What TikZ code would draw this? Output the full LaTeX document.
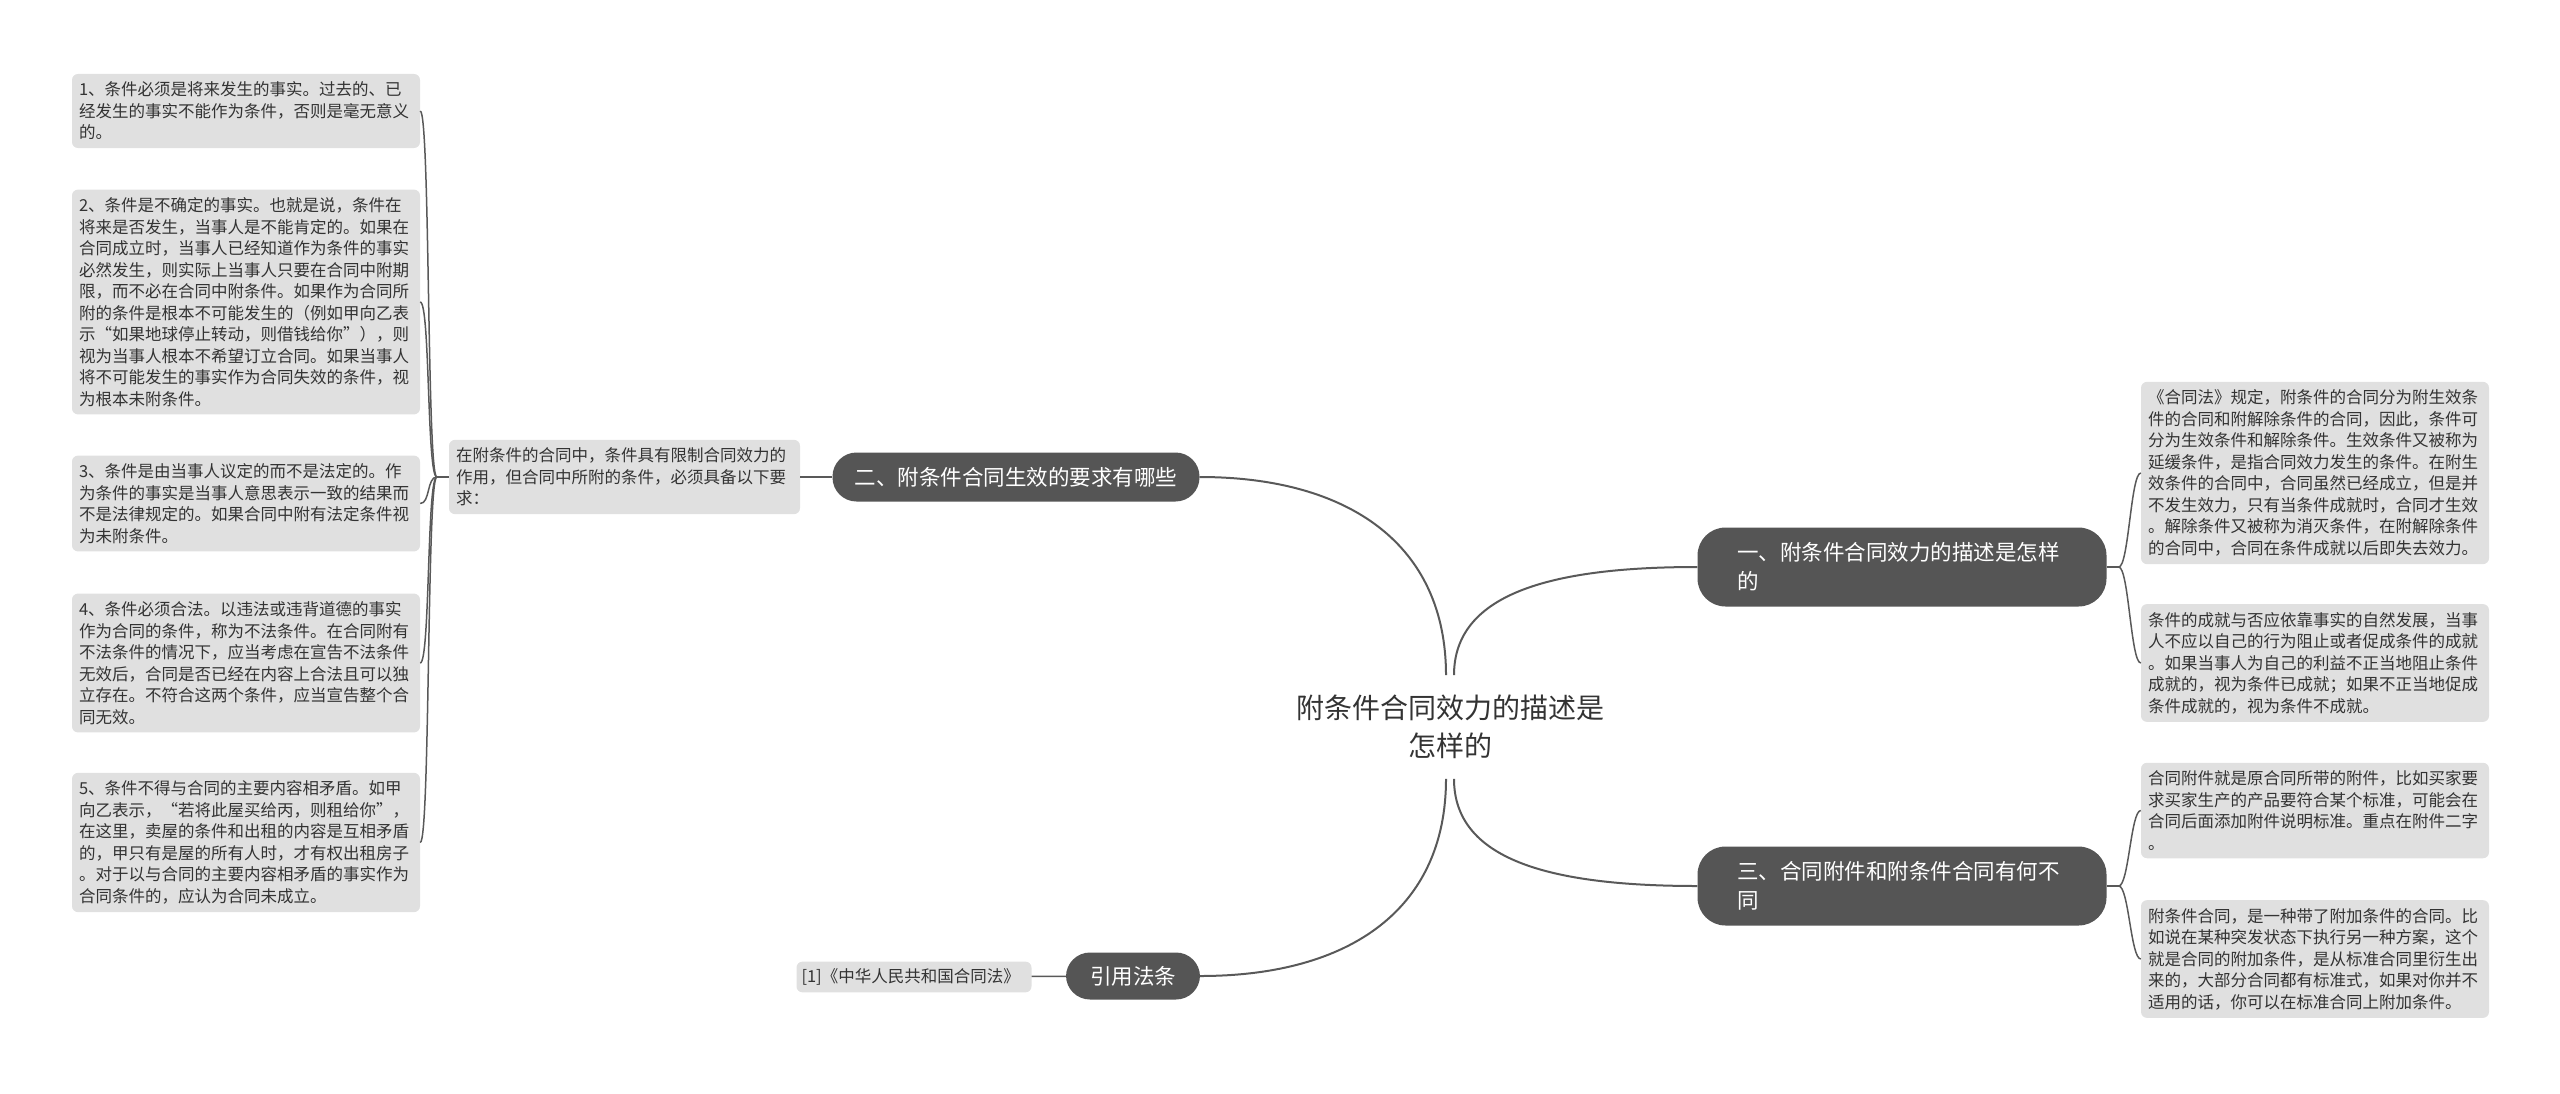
\documentclass[tikz,border=0pt]{standalone}
\usepackage{fontspec}
\newfontfamily\cjk{Noto Sans CJK SC}
\usetikzlibrary{positioning}
\definecolor{pillgray}{HTML}{555555}
\definecolor{leafgray}{HTML}{E0E0E0}
\definecolor{linegray}{HTML}{595959}
\definecolor{inkgray}{HTML}{333333}
\begin{document}
\begin{tikzpicture}[
            x = 1pt, y = -1pt,
            every node/.style={inner sep=0pt},
            leaf/.style={fill=leafgray, rounded corners=6pt, text width=334pt, inner xsep=7pt, inner ysep=8pt,
                align=left, text=inkgray, font=\cjk\fontsize{16.5}{21.5}\selectfont},
            topic/.style={fill=pillgray, text=white, font=\cjk\fontsize{21.5}{29}\selectfont},
            line/.style={draw=linegray, line width=2pt},
            thinline/.style={draw=linegray, line width=1.5pt},
            ]

        \useasboundingbox (0,0) rectangle (2560,1093);

        % centre
        \node[align=center, inner ysep=20pt, text=inkgray, font=\cjk\fontsize{28}{37.5}\selectfont] (root) at (1450, 727)
            {附条件合同效力的描述是\\怎样的};

        % main topics
        \node[topic, rounded corners=24pt, minimum width=367pt, minimum height=49pt] (b2) at (1016, 477)
            {二、附条件合同生效的要求有哪些};
        \node[topic, rounded corners=28pt, text width=330pt, inner xsep=39.5pt, minimum height=79pt, align=left] (b1) at (1902, 567)
            {一、附条件合同效力的描述是怎样\\的};
        \node[topic, rounded corners=28pt, text width=330pt, inner xsep=39.5pt, minimum height=79pt, align=left] (b3) at (1902, 886)
            {三、合同附件和附条件合同有何不\\同};
        \node[topic, rounded corners=24pt, minimum width=134pt, minimum height=47pt] (b4) at (1133, 976)
            {引用法条};

        % left side
        \node[leaf, text width=337pt] (mid) at (624.5, 477)
            {在附条件的合同中，条件具有限制合同效力的\\
             作用，但合同中所附的条件，必须具备以下要\\
             求：};
        \node[leaf] (l1) at (246, 111)
            {1、条件必须是将来发生的事实。过去的、已\\
             经发生的事实不能作为条件，否则是毫无意义\\
             的。};
        \node[leaf] (l2) at (246, 302)
            {2、条件是不确定的事实。也就是说，条件在\\
             将来是否发生，当事人是不能肯定的。如果在\\
             合同成立时，当事人已经知道作为条件的事实\\
             必然发生，则实际上当事人只要在合同中附期\\
             限，而不必在合同中附条件。如果作为合同所\\
             附的条件是根本不可能发生的（例如甲向乙表\\
             示“如果地球停止转动，则借钱给你”），则\\
             视为当事人根本不希望订立合同。如果当事人\\
             将不可能发生的事实作为合同失效的条件，视\\
             为根本未附条件。};
        \node[leaf] (l3) at (246, 503.5)
            {3、条件是由当事人议定的而不是法定的。作\\
             为条件的事实是当事人意思表示一致的结果而\\
             不是法律规定的。如果合同中附有法定条件视\\
             为未附条件。};
        \node[leaf] (l4) at (246, 663)
            {4、条件必须合法。以违法或违背道德的事实\\
             作为合同的条件，称为不法条件。在合同附有\\
             不法条件的情况下，应当考虑在宣告不法条件\\
             无效后，合同是否已经在内容上合法且可以独\\
             立存在。不符合这两个条件，应当宣告整个合\\
             同无效。};
        \node[leaf] (l5) at (246, 842.5)
            {5、条件不得与合同的主要内容相矛盾。如甲\\
             向乙表示，“若将此屋买给丙，则租给你”，\\
             在这里，卖屋的条件和出租的内容是互相矛盾\\
             的，甲只有是屋的所有人时，才有权出租房子\\
             。对于以与合同的主要内容相矛盾的事实作为\\
             合同条件的，应认为合同未成立。};
        \node[leaf, text width=225pt, inner xsep=5pt, inner ysep=7pt] (ref) at (914, 977)
            {[1]《中华人民共和国合同法》};

        % right side
        \node[leaf] (r1) at (2315, 473)
            {《合同法》规定，附条件的合同分为附生效条\\
             件的合同和附解除条件的合同，因此，条件可\\
             分为生效条件和解除条件。生效条件又被称为\\
             延缓条件，是指合同效力发生的条件。在附生\\
             效条件的合同中，合同虽然已经成立，但是并\\
             不发生效力，只有当条件成就时，合同才生效\\
             。解除条件又被称为消灭条件，在附解除条件\\
             的合同中，合同在条件成就以后即失去效力。};
        \node[leaf] (r2) at (2315, 663)
            {条件的成就与否应依靠事实的自然发展，当事\\
             人不应以自己的行为阻止或者促成条件的成就\\
             。如果当事人为自己的利益不正当地阻止条件\\
             成就的，视为条件已成就；如果不正当地促成\\
             条件成就的，视为条件不成就。};
        \node[leaf] (r3) at (2315, 810.5)
            {合同附件就是原合同所带的附件，比如买家要\\
             求买家生产的产品要符合某个标准，可能会在\\
             合同后面添加附件说明标准。重点在附件二字\\
             。};
        \node[leaf] (r4) at (2315, 959)
            {附条件合同，是一种带了附加条件的合同。比\\
             如说在某种突发状态下执行另一种方案，这个\\
             就是合同的附加条件，是从标准合同里衍生出\\
             来的，大部分合同都有标准式，如果对你并不\\
             适用的话，你可以在标准合同上附加条件。};

        % junctions
        \coordinate[left=12pt of mid] (jl);
        \coordinate[right=12pt of b1] (j1);
        \coordinate[right=12pt of b3] (j3);

        % centre to topics
        \draw[line] ([xshift=-4pt]root.north) .. controls +(0,-130) and +(150,0) .. (b2.east);
        \draw[line] ([xshift=4pt]root.north) .. controls +(0,-80) and +(-150,0) .. (b1.west);
        \draw[line] ([xshift=-4pt]root.south) .. controls +(0,130) and +(150,0) .. (b4.east);
        \draw[line] ([xshift=4pt]root.south) .. controls +(0,80) and +(-150,0) .. (b3.west);

        % topics to details
        \draw[thinline] (b2) -- (mid);
        \draw[thinline] (b4) -- (ref);
        \draw[thinline] (mid.west) -- (jl);
        \foreach \n in {l1, l2, l3, l4, l5}
            \draw[thinline] (jl) .. controls +(-10,0) and +(10,0) .. (\n.east);
        \draw[thinline] (b1.east) -- (j1);
        \draw[thinline] (b3.east) -- (j3);
        \foreach \n in {r1, r2}
            \draw[thinline] (j1) .. controls +(10,0) and +(-10,0) .. (\n.west);
        \foreach \n in {r3, r4}
            \draw[thinline] (j3) .. controls +(10,0) and +(-10,0) .. (\n.west);
    \end{tikzpicture}
\end{document}
